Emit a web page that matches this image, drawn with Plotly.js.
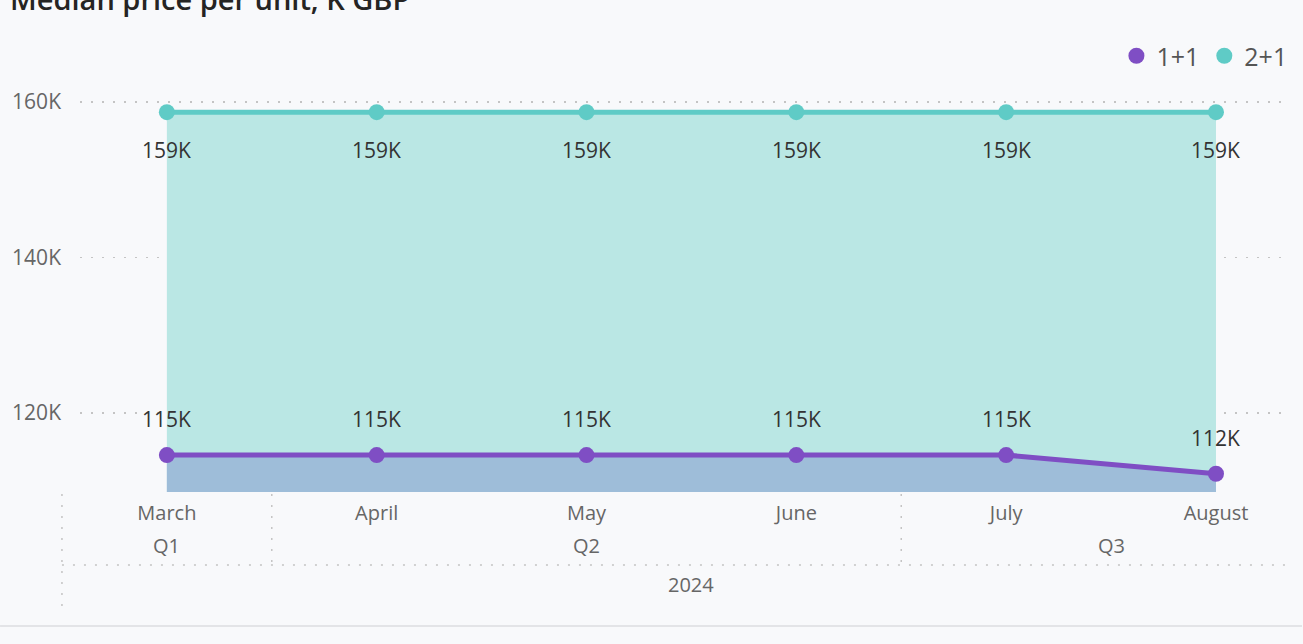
<!DOCTYPE html>
<html>
<head>
<meta charset="utf-8">
<script src="https://cdn.plot.ly/plotly-3.0.1.min.js"></script>
<style>
html,body{margin:0;padding:0;background:#F8F9FB;}
#chart{width:1303px;height:644px;}
</style>
</head>
<body>
<div id="chart"></div>
<script>
// ---- data ----
var months = ["March", "April", "May", "June", "July", "August"];
var quarters = ["Q1", "Q2", "Q2", "Q2", "Q3", "Q3"];
var year = "2024";
var seriesNames = ["1+1", "2+1"];
var values11 = [114.6, 114.6, 114.6, 114.6, 114.6, 112.2];
var values21 = [158.7, 158.7, 158.7, 158.7, 158.7, 158.7];
var yTickVals = [120, 140, 160];
var yTickText = ["120K", "140K", "160K"];

// ---- style ----
var FONT = "'Open Sans', 'Noto Sans', sans-serif";
var teal = "#5FCBC6", tealFill = "#BAE7E4";
var purple = "#7F4EC4", purpleFill = "#9EBDD9";
var xr = [-0.414, 5.348];
var yr = [109.85, 162.84];
var ML = 80, MR = 13, MT = 80, MB = 152, W = 1303, H = 644;
var plotW = W - ML - MR, plotH = H - MT - MB;
function pxToPaperY(py) { return (H - MB - py) / plotH; }
function dataToPaperX(v) { return (v - xr[0]) / (xr[1] - xr[0]); }

var fmt = function (v) { return Math.round(v) + "K"; };

var traces = [
  {
    x: months, y: values21, name: seriesNames[1], type: "scatter", mode: "lines+markers",
    line: { color: teal, width: 5 }, marker: { color: teal, size: 16 },
    fill: "tozeroy", fillcolor: tealFill, showlegend: false, hoverinfo: "skip"
  },
  {
    x: months, y: values11, name: seriesNames[0], type: "scatter", mode: "lines+markers",
    line: { color: purple, width: 5 }, marker: { color: purple, size: 16 },
    fill: "tozeroy", fillcolor: purpleFill, showlegend: false, hoverinfo: "skip"
  },
  // legend entries
  { x: [null], y: [null], name: seriesNames[0], type: "scatter", mode: "markers",
    marker: { color: purple, size: 20 }, showlegend: true },
  { x: [null], y: [null], name: seriesNames[1], type: "scatter", mode: "markers",
    marker: { color: teal, size: 20 }, showlegend: true }
];

var annotations = [];
months.forEach(function (m, i) {
  annotations.push({ x: m, y: values21[i], xref: "x", yref: "y", text: fmt(values21[i]),
    showarrow: false, yshift: -38, font: { family: FONT, size: 21, color: "#333333" } });
  annotations.push({ x: m, y: values11[i], xref: "x", yref: "y", text: fmt(values11[i]),
    showarrow: false, yshift: 36, font: { family: FONT, size: 21, color: "#333333" } });
});

// quarter group labels (centered over their months)
var groups = [];
quarters.forEach(function (q, i) {
  if (groups.length && groups[groups.length - 1].q === q) groups[groups.length - 1].end = i;
  else groups.push({ q: q, start: i, end: i });
});
groups.forEach(function (g) {
  annotations.push({ x: (g.start + g.end) / 2, y: pxToPaperY(545), xref: "x", yref: "paper",
    text: g.q, showarrow: false, yanchor: "middle",
    font: { family: FONT, size: 20, color: "#666666" } });
});
annotations.push({ x: (months.length - 1) / 2, y: pxToPaperY(584), xref: "x", yref: "paper",
  text: year, showarrow: false, yanchor: "middle",
  font: { family: FONT, size: 20, color: "#666666" } });

// divider lines
var dotLine = { color: "#C4C4C4", width: 1.5, dash: "2px,9px" };
var shapes = [];
shapes.push({ type: "line", xref: "paper", yref: "paper", x0: dataToPaperX(-0.5), x1: dataToPaperX(-0.5),
  y0: pxToPaperY(494), y1: pxToPaperY(606), line: dotLine });
groups.slice(0, -1).forEach(function (g) {
  var xv = g.end + 0.5;
  shapes.push({ type: "line", xref: "paper", yref: "paper", x0: dataToPaperX(xv), x1: dataToPaperX(xv),
    y0: pxToPaperY(494), y1: pxToPaperY(566), line: dotLine });
});
shapes.push({ type: "line", xref: "paper", yref: "paper", x0: dataToPaperX(-0.5), x1: 1,
  y0: pxToPaperY(565), y1: pxToPaperY(565), line: dotLine });
// bottom separator
shapes.push({ type: "line", xref: "paper", yref: "paper", x0: -ML / plotW, x1: (W - ML) / plotW,
  y0: pxToPaperY(626), y1: pxToPaperY(626), line: { color: "#E3E4E7", width: 2 } });

var layout = {
  width: W, height: H,
  paper_bgcolor: "#F8F9FB", plot_bgcolor: "#F8F9FB",
  margin: { l: ML, r: MR, t: MT, b: MB, pad: 0 },
  font: { family: FONT, color: "#666666" },
  title: { text: "Median price per unit, K GBP", x: 10 / W, xanchor: "left",
    xref: "container", yref: "container", y: 1.0, yanchor: "middle",
    font: { family: FONT, size: 29, color: "#252423", weight: 600 } },
  showlegend: true,
  legend: { orientation: "h", x: 1.002, xanchor: "right", y: pxToPaperY(56), yanchor: "middle",
    font: { family: FONT, size: 25, color: "#555555" }, bgcolor: "rgba(0,0,0,0)",
    itemwidth: 30, tracegroupgap: 0, traceorder: "normal" },
  xaxis: { type: "category", range: xr, showgrid: false, zeroline: false, showline: false,
    ticks: "", tickfont: { family: FONT, size: 20, color: "#666666" }, ticklabelstandoff: 7,
    fixedrange: true },
  yaxis: { range: yr, tickvals: yTickVals, ticktext: yTickText, showgrid: true,
    gridcolor: "#C4C4C4", gridwidth: 1.5, griddash: "2px,9px", zeroline: false, showline: false,
    ticks: "", tickfont: { family: FONT, size: 21, color: "#666666" }, ticklabelstandoff: 18,
    fixedrange: true },
  annotations: annotations,
  shapes: shapes,
  hovermode: false
};

Plotly.newPlot("chart", traces, layout, { displayModeBar: false, staticPlot: true });
</script>
</body>
</html>
